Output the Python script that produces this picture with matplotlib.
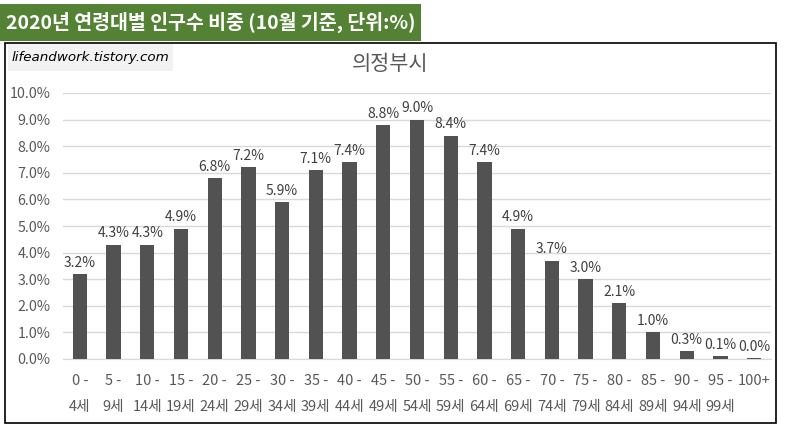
import matplotlib
matplotlib.use("Agg")
import matplotlib.pyplot as plt
from matplotlib.patches import Rectangle

plt.rcParams['font.family'] = ['Noto Sans CJK KR', 'DejaVu Sans']

# data
age_start = ['0 -', '5 -', '10 -', '15 -', '20 -', '25 -', '30 -', '35 -', '40 -', '45 -',
             '50 -', '55 -', '60 -', '65 -', '70 -', '75 -', '80 -', '85 -', '90 -', '95 -', '100+']
age_end = ['4세', '9세', '14세', '19세', '24세', '29세', '34세', '39세', '44세', '49세',
           '54세', '59세', '64세', '69세', '74세', '79세', '84세', '89세', '94세', '99세', '']
share = [3.2, 4.3, 4.3, 4.9, 6.8, 7.2, 5.9, 7.1, 7.4, 8.8, 9.0, 8.4, 7.4, 4.9, 3.7, 3.0,
         2.1, 1.0, 0.3, 0.1, 0.02]

W, H = 786, 429
fig = plt.figure(figsize=(W / 100, H / 100), dpi=100)

def fx(px):
  return px / W

def fy(py):
  return 1 - py / H

# green header box
fig.patches.append(Rectangle((fx(0), fy(41)), fx(421), 37 / H, transform=fig.transFigure,
                             facecolor='#548235', edgecolor='none'))
fig.text(fx(6), fy(22), '2020년 연령대별 인구수 비중 (10월 기준, 단위:%)', color='white',
         fontsize=14, fontweight='bold', va='center', ha='left')

# chart frame
fig.patches.append(Rectangle((fx(5), fy(423)), fx(771), 380 / H, transform=fig.transFigure,
                             facecolor='none', edgecolor='black', linewidth=1.2))

# watermark
fig.patches.append(Rectangle((fx(8), fy(71)), fx(165), 27 / H, transform=fig.transFigure,
                             facecolor='#f2f2f2', edgecolor='none'))
fig.text(fx(12), fy(58), 'lifeandwork.tistory.com', fontsize=9.7, style='italic',
         color='black', va='center', ha='left', family=['DejaVu Sans'])

fig.text(fx(390), fy(64), '의정부시', fontsize=15, color='#595959', ha='center', va='center')

ax = fig.add_axes([fx(63), fy(359), fx(708), (359 - 93) / H])
x = range(len(share))
bars = ax.bar(x, share, width=0.42, color='#525252', zorder=3)
ax.bar_label(bars, labels=[f'{v:.1f}%' for v in share], padding=3, fontsize=10, color='#404040')

ax.set_xlim(-0.5, len(share) - 0.5)
ax.set_ylim(0, 10)
ax.set_yticks(range(0, 11))
ax.set_yticklabels([f'{v:.1f}%' for v in range(0, 11)], fontsize=10.3, color='#595959')
ax.set_xticks(list(x))
ax.set_xticklabels([a + '\n' + b for a, b in zip(age_start, age_end)], fontsize=10.5,
                   color='#595959', linespacing=2.1)
ax.tick_params(axis='both', length=0)
ax.tick_params(axis='y', pad=9)
ax.tick_params(axis='x', pad=11)
ax.grid(axis='y', color='#d9d9d9', linewidth=1, zorder=0)
for s in ['top', 'right', 'left']:
  ax.spines[s].set_visible(False)
ax.spines['bottom'].set_color('#d9d9d9')

fig.savefig('out.png', dpi=100)
